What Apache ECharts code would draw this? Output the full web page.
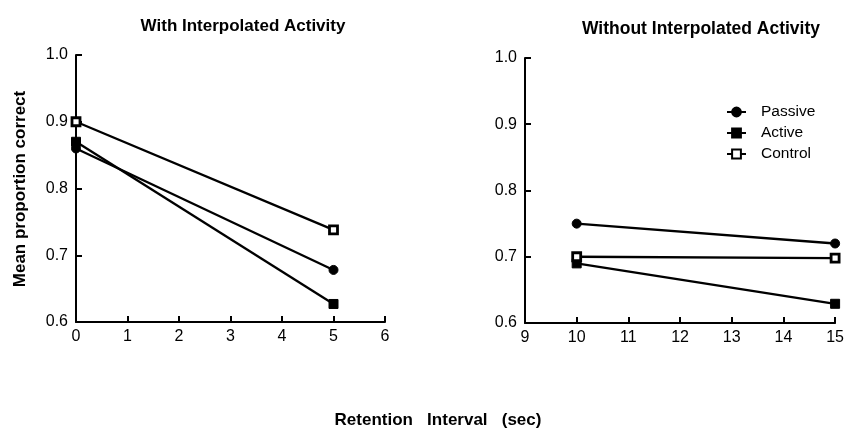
<!DOCTYPE html>
<html>
<head>
<meta charset="utf-8">
<script src="https://cdn.jsdelivr.net/npm/echarts@6/dist/echarts.min.js"></script>
<style>html,body{margin:0;padding:0;background:#fff}#c{width:847px;height:430px}</style>
</head>
<body>
<div id="c"></div>
<script>
const seriesNames = ['Passive', 'Active', 'Control'];
const withX = [0, 5];
const withoutX = [10, 15];
const withPassive = [0.86, 0.678];
const withActive = [0.87, 0.627];
const withControl = [0.90, 0.738];
const withoutPassive = [0.75, 0.72];
const withoutActive = [0.69, 0.629];
const withoutControl = [0.70, 0.698];
const titles = ['With Interpolated Activity', 'Without Interpolated Activity'];
const yAxisTitle = 'Mean proportion correct';
const xAxisTitle = 'Retention   Interval   (sec)';

const FONT = '"Liberation Sans", Arial, sans-serif';
const symbolStyles = {
  Passive: { symbol: 'circle', symbolSize: 9, itemStyle: { color: '#000', borderColor: '#000', borderWidth: 1 } },
  Active: { symbol: 'rect', symbolSize: 9, itemStyle: { color: '#000', borderColor: '#000', borderWidth: 1 } },
  Control: { symbol: 'rect', symbolSize: 8, itemStyle: { color: '#fff', borderColor: '#000', borderWidth: 2.8 } }
};

function mk(name, xs, ys, idx) {
  const s = symbolStyles[name];
  return {
    name: name, type: 'line', xAxisIndex: idx, yAxisIndex: idx,
    data: xs.map((x, i) => [x, ys[i]]),
    symbol: s.symbol, symbolSize: s.symbolSize, itemStyle: s.itemStyle,
    lineStyle: { color: '#000', width: 2.3 },
    z: name === 'Control' ? 3 : 2,
    animation: false
  };
}

function yAx(idx) {
  return {
    gridIndex: idx, type: 'value', min: 0.6, max: 1.0, interval: 0.1,
    axisLine: { show: true, lineStyle: { color: '#000', width: 2 } },
    axisTick: { show: true, inside: true, length: 6, lineStyle: { color: '#000', width: 2 } },
    axisLabel: { color: '#000', fontFamily: FONT, fontSize: 16, margin: 8, formatter: v => v.toFixed(1) },
    splitLine: { show: false }
  };
}
function xAx(idx, min, max) {
  return {
    gridIndex: idx, type: 'value', min: min, max: max, interval: 1,
    axisLine: { show: true, onZero: false, lineStyle: { color: '#000', width: 2 } },
    axisTick: { show: true, inside: true, length: 6, lineStyle: { color: '#000', width: 2 } },
    axisLabel: { color: '#000', fontFamily: FONT, fontSize: 16, margin: 7 },
    splitLine: { show: false }
  };
}

const option = {
  backgroundColor: '#fff',
  animation: false,
  title: [
    { text: titles[0], left: 238, top: 13, textAlign: 'center', textStyle: { fontFamily: FONT, fontSize: 17, fontWeight: 'bold', color: '#000' } },
    { text: titles[1], left: 696, top: 15, textAlign: 'center', textStyle: { fontFamily: FONT, fontSize: 17.5, fontWeight: 'bold', color: '#000' } }
  ],
  graphic: [
    { type: 'text', x: 438, y: 420, style: { text: xAxisTitle, font: 'bold 17px ' + FONT, fill: '#000', align: 'center', verticalAlign: 'middle' } },
    { type: 'text', x: 20, y: 189, rotation: Math.PI / 2, style: { text: yAxisTitle, font: 'bold 17px ' + FONT, fill: '#000', align: 'center', verticalAlign: 'middle' } }
  ],
  legend: {
    data: seriesNames, orient: 'vertical', left: 721, top: 99, itemGap: 5,
    itemWidth: 19, itemHeight: 11,
    textStyle: { fontFamily: FONT, fontSize: 15.5, color: '#000', padding: [0, 0, 0, 10] }
  },
  grid: [
    { left: 76, right: 462, top: 55, bottom: 108 },
    { left: 525, right: 9, top: 58, bottom: 107 }
  ],
  xAxis: [xAx(0, 0, 6), xAx(1, 9, 15)],
  yAxis: [yAx(0), yAx(1)],
  series: [
    mk('Passive', withX, withPassive, 0),
    mk('Active', withX, withActive, 0),
    mk('Control', withX, withControl, 0),
    mk('Passive', withoutX, withoutPassive, 1),
    mk('Active', withoutX, withoutActive, 1),
    mk('Control', withoutX, withoutControl, 1)
  ]
};
const chart = echarts.init(document.getElementById('c'), null, { renderer: 'canvas' });
chart.setOption(option);
</script>
</body>
</html>
